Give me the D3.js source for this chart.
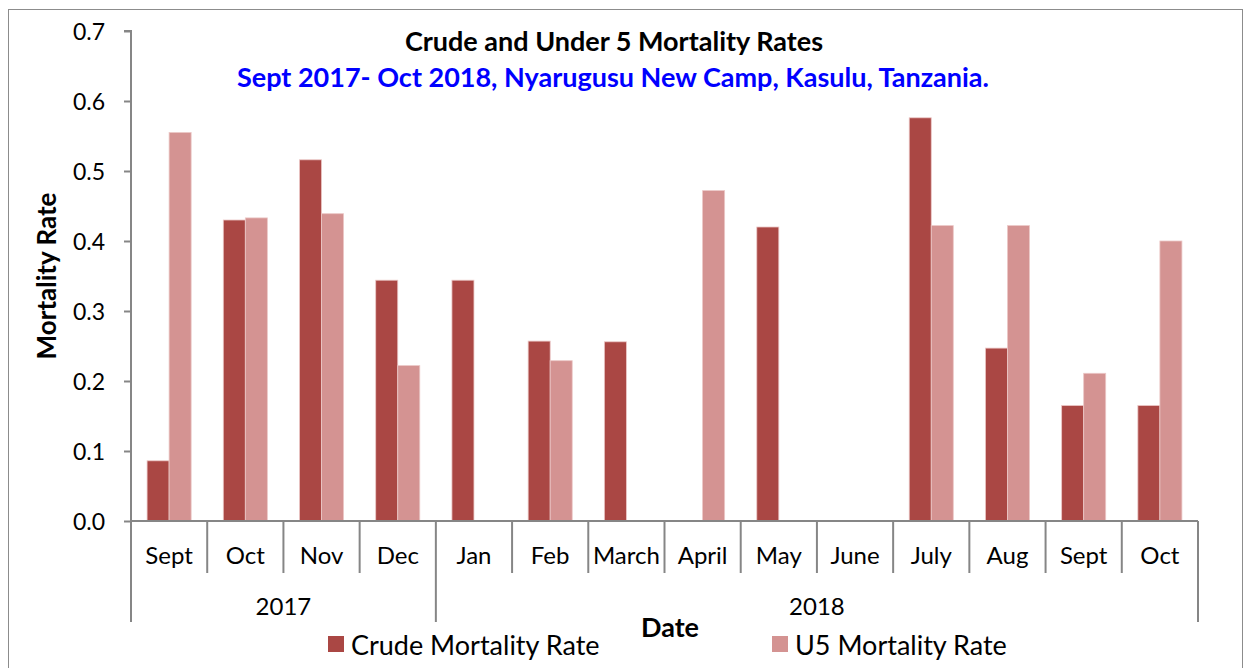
<!DOCTYPE html>
<html>
<head>
<meta charset="utf-8">
<script src="https://cdn.jsdelivr.net/npm/d3@7"></script>
<style>
  html, body { margin: 0; padding: 0; background: #fff; }
  text { font-family: Lato, "Open Sans", sans-serif; }
</style>
</head>
<body>
<svg id="chart" width="1253" height="668"></svg>
<script>
const months = ["Sept","Oct","Nov","Dec","Jan","Feb","March","April","May","June","July","Aug","Sept","Oct"];
const years = [{label:"2017", count:4},{label:"2018", count:10}];
const crude = [0.086,0.430,0.516,0.344,0.344,0.257,0.256,0,0.420,0,0.576,0.247,0.165,0.165];
const u5    = [0.555,0.433,0.439,0.222,0,0.229,0,0.472,0,0,0.422,0.422,0.211,0.400];
const seriesNames = ["Crude Mortality Rate","U5 Mortality Rate"];
const colors = ["#AA4744","#D49392"];
const yTicks = [0,0.1,0.2,0.3,0.4,0.5,0.6,0.7];
const titleText = "Crude and Under 5 Mortality Rates";
const subtitleText = "Sept 2017- Oct 2018, Nyarugusu New Camp, Kasulu, Tanzania.";

const svg = d3.select("#chart");
const W = 1253, H = 668;
const plot = {left:131, right:1198, top:31, bottom:521};

// outer border
svg.append("rect").attr("x",8.5).attr("y",9.5).attr("width",1234).attr("height",H)
  .attr("fill","#fff").attr("stroke","#8c8c8c").attr("stroke-width",1);

const idx = months.map((m,i)=>i);
const x = d3.scaleBand().domain(idx).range([plot.left, plot.right]).paddingInner(0).paddingOuter(0);
const y = d3.scaleLinear().domain([0,0.7]).range([plot.bottom, plot.top]);
const inner = d3.scaleBand().domain([0,1]).range([0, x.bandwidth()]).paddingOuter(0.73).paddingInner(0);

const rows = idx.map(i => ({i, vals:[crude[i], u5[i]]}));
const g = svg.append("g");
rows.forEach(r => {
  r.vals.forEach((v,s) => {
    if (v <= 0) return;
    g.append("rect")
      .attr("x", x(r.i) + inner(s))
      .attr("y", y(v))
      .attr("width", inner.bandwidth())
      .attr("height", y(0) - y(v))
      .attr("fill", colors[s])
      .attr("stroke", "#EBC7C6")
      .attr("stroke-width", 0.8);
  });
});

const axisColor = "#868686";
// y axis
const yAxis = d3.axisLeft(y).tickValues(yTicks).tickSize(7).tickFormat(d => d3.format(".1f")(d));
const ya = svg.append("g").attr("transform",`translate(${plot.left},0)`).call(yAxis);
ya.select(".domain").attr("stroke",axisColor).attr("stroke-width",2).attr("d",`M-7,${plot.top}H0V${plot.bottom}`);
ya.selectAll(".tick line").attr("stroke",axisColor).attr("stroke-width",2);
ya.selectAll(".tick text").attr("x",-26).attr("dy","0.36em")
  .style("font-size","23px").attr("fill","#000").style("font-family","Lato, sans-serif");

// x axis baseline
svg.append("line").attr("x1",plot.left).attr("x2",plot.right).attr("y1",y(0)).attr("y2",y(0))
  .attr("stroke",axisColor).attr("stroke-width",2);

// month separators
const xb = svg.append("g");
let yearBounds = [0];
years.reduce((acc,yr)=>{acc+=yr.count; yearBounds.push(acc); return acc;},0);
for (let k=0; k<=months.length; k++) {
  const px = k < months.length ? x(k) : x(months.length-1) + x.bandwidth();
  const isYear = yearBounds.includes(k);
  xb.append("line").attr("x1",px).attr("x2",px).attr("y1",y(0)).attr("y2", isYear ? 622 : 573)
    .attr("stroke",axisColor).attr("stroke-width",2);
}
months.forEach((m,i)=>{
  xb.append("text").attr("x", x(i)+x.bandwidth()/2).attr("y",564)
    .attr("text-anchor","middle").style("font-size","24px").attr("fill","#000").text(m);
});
let start = 0;
years.forEach(yr=>{
  const x0 = x(start), x1 = x(start+yr.count-1)+x.bandwidth();
  xb.append("text").attr("x",(x0+x1)/2).attr("y",615).attr("text-anchor","middle")
    .style("font-size","24px").attr("fill","#000").text(yr.label);
  start += yr.count;
});

// titles
svg.append("text").attr("x",614).attr("y",51).attr("text-anchor","middle")
  .style("font-size","27px").style("font-weight","bold").attr("fill","#000").text(titleText);
svg.append("text").attr("x",613).attr("y",87).attr("text-anchor","middle")
  .style("font-size","27px").style("font-weight","bold").attr("fill","#0000FF").text(subtitleText);

// axis titles
svg.append("text").attr("transform","translate(56,276) rotate(-90)").attr("text-anchor","middle")
  .style("font-size","26px").style("font-weight","bold").attr("fill","#000").text("Mortality Rate");
svg.append("text").attr("x",670).attr("y",637).attr("text-anchor","middle")
  .style("font-size","27px").style("font-weight","bold").attr("fill","#000").text("Date");

// legend
const legendX = [328, 772];
seriesNames.forEach((n,s)=>{
  svg.append("rect").attr("x",legendX[s]).attr("y",636).attr("width",16).attr("height",16).attr("fill",colors[s]);
  svg.append("text").attr("x",legendX[s]+23).attr("y",655).style("font-size","27px").attr("fill","#000").text(n);
});
</script>
</body>
</html>
